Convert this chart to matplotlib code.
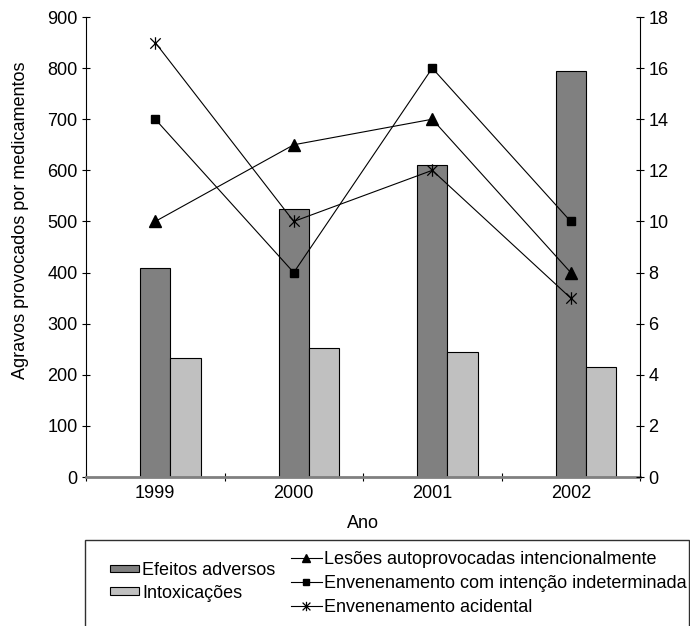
import matplotlib
matplotlib.use("Agg")
import matplotlib.pyplot as plt
from matplotlib.patches import Rectangle
from matplotlib.path import Path
import numpy as np

plt.rcParams['font.family'] = ['Liberation Sans', 'DejaVu Sans']

years = ['1999', '2000', '2001', '2002']
efeitos_adversos = [408, 525, 611, 795]
intoxicacoes = [232, 252, 244, 215]
lesoes = [10, 13, 14, 8]
env_indeterminada = [14, 8, 16, 10]
env_acidental = [17, 10, 12, 7]

# Excel-style asterisk marker: an "x" plus a vertical stroke
ast = Path([(-1, -1), (1, 1), (-1, 1), (1, -1), (0, -1.2), (0, 1.2)],
           [Path.MOVETO, Path.LINETO, Path.MOVETO, Path.LINETO, Path.MOVETO, Path.LINETO])

FS = 13
fig = plt.figure(figsize=(6.9, 6.26), dpi=100)
ax = fig.add_axes([86/690, 1-477/626, (640-86)/690, (477-17)/626])
x = np.arange(len(years))
w = 0.22
ax.bar(x, efeitos_adversos, width=w, color='#808080', edgecolor='black', linewidth=0.8,
       label='Efeitos adversos', zorder=2)
ax.bar(x + w, intoxicacoes, width=w, color='#C0C0C0', edgecolor='black', linewidth=0.8,
       label='Intoxicações', zorder=2)
ax.set_xlim(-0.5, 3.5)
ax.set_ylim(0, 900)
ax.set_yticks(range(0, 901, 100))
ax.set_xticks(x)
ax.set_xticklabels(years, fontsize=FS)
ax.set_xticks(np.arange(-0.5, 3.6, 1), minor=True)
ax.tick_params(axis='x', which='major', length=0, pad=6)
ax.tick_params(axis='x', which='minor', length=6, direction='inout', color='black', width=0.8)
ax.tick_params(axis='y', direction='inout', length=6, width=0.8, labelsize=FS, pad=3)
ax.spines['top'].set_visible(False)
ax.spines['right'].set_visible(False)
ax.spines['bottom'].set_color('#808080')
ax.spines['bottom'].set_linewidth(2)
ax.spines['bottom'].set_zorder(3)
ax.spines['left'].set_linewidth(0.8)
ax.set_xlabel('Ano', fontsize=FS, labelpad=9)
ax.set_ylabel('Agravos provocados por medicamentos', fontsize=FS)
ax.yaxis.set_label_coords(-0.103, 0.559)

ax2 = ax.twinx()
ax2.set_ylim(0, 18)
ax2.set_yticks(range(0, 19, 2))
ax2.tick_params(axis='y', direction='inout', length=6, width=0.8, labelsize=FS, pad=3)
ax2.spines['top'].set_visible(False)
ax2.spines['left'].set_visible(False)
ax2.spines['bottom'].set_visible(False)
ax2.spines['right'].set_linewidth(0.8)
l1, = ax2.plot(x, lesoes, color='black', lw=0.8, marker='^', ms=8,
               label='Lesões autoprovocadas intencionalmente')
l2, = ax2.plot(x, env_indeterminada, color='black', lw=0.8, marker='s', ms=6,
               label='Envenenamento com intenção indeterminada')
l3, = ax2.plot(x, env_acidental, color='black', lw=0.8, marker=ast, ms=9, mew=0.9,
               label='Envenenamento acidental')

# legend frame
fig.patches.append(Rectangle((85/690, -0.02), (689-85)/690, 1-540/626+0.02,
                             transform=fig.transFigure, fill=False,
                             edgecolor='#303030', linewidth=1))
h1, lab1 = ax.get_legend_handles_labels()
fig.legend(h1, lab1, loc='upper left', bbox_to_anchor=(110/690, 1-562/626),
           frameon=False, fontsize=FS, handlelength=1.6, handleheight=0.3,
           handletextpad=0.17, labelspacing=0.32, borderpad=0, borderaxespad=0)
fig.legend([l1, l2, l3], [l1.get_label(), l2.get_label(), l3.get_label()],
           loc='upper left', bbox_to_anchor=(291/690, 1-551/626),
           frameon=False, fontsize=FS, handlelength=1.7, handletextpad=0.12,
           labelspacing=0.4, borderpad=0, borderaxespad=0, markerscale=0.75)

fig.savefig('out.png', dpi=100)
